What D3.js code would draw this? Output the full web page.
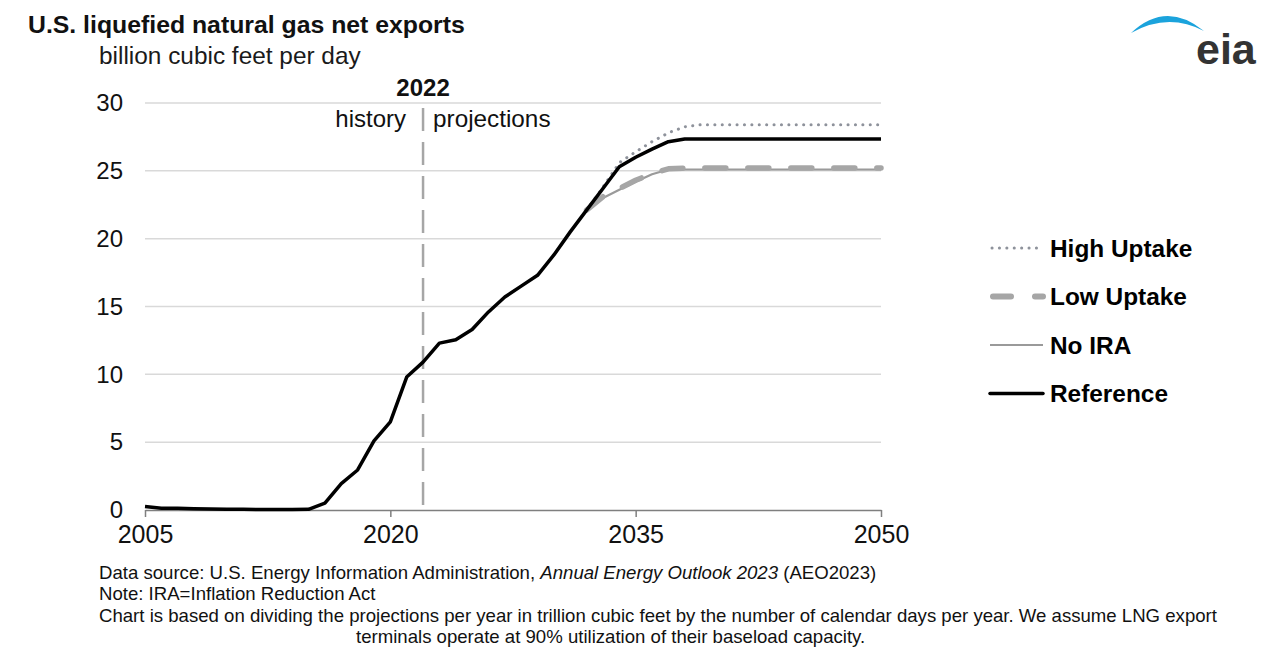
<!DOCTYPE html>
<html>
<head>
<meta charset="utf-8">
<script src="https://cdn.jsdelivr.net/npm/d3@7"></script>
<style>
  body { margin: 0; background: #fff; }
  svg { font-family: "Liberation Sans", Arial, sans-serif; }
</style>
</head>
<body>
<svg id="chart" width="1262" height="647"></svg>
<script>
// years on the x axis
var years = [2005, 2006, 2007, 2008, 2009, 2010, 2011, 2012, 2013, 2014, 2015, 2016, 2017, 2018, 2019, 2020,
  2021, 2022, 2023, 2024, 2025, 2026, 2027, 2028, 2029, 2030, 2031, 2032, 2033, 2034, 2035, 2036, 2037, 2038,
  2039, 2040, 2041, 2042, 2043, 2044, 2045, 2046, 2047, 2048, 2049, 2050];

// billion cubic feet per day
var reference = [0.25, 0.13, 0.12, 0.1, 0.08, 0.06, 0.05, 0.04, 0.03, 0.04, 0.05, 0.5, 1.95, 2.95, 5.1, 6.5,
  9.8, 10.9, 12.3, 12.55, 13.3, 14.6, 15.7, 16.5, 17.3, 18.8, 20.5, 22.1, 23.7, 25.3, 26.0, 26.6, 27.15, 27.35,
  27.35, 27.35, 27.35, 27.35, 27.35, 27.35, 27.35, 27.35, 27.35, 27.35, 27.35, 27.35];
var highUptake = [0.25, 0.13, 0.12, 0.1, 0.08, 0.06, 0.05, 0.04, 0.03, 0.04, 0.05, 0.5, 1.95, 2.95, 5.1, 6.5,
  9.8, 10.9, 12.3, 12.55, 13.3, 14.6, 15.7, 16.5, 17.3, 18.8, 20.5, 22.1, 23.8, 25.6, 26.4, 27.15, 27.8, 28.25,
  28.4, 28.4, 28.4, 28.4, 28.4, 28.4, 28.4, 28.4, 28.4, 28.4, 28.4, 28.4];
var lowUptake = [0.25, 0.13, 0.12, 0.1, 0.08, 0.06, 0.05, 0.04, 0.03, 0.04, 0.05, 0.5, 1.95, 2.95, 5.1, 6.5,
  9.8, 10.9, 12.3, 12.55, 13.3, 14.6, 15.7, 16.5, 17.3, 18.8, 20.5, 22.1, 23.1, 23.7, 24.3, 24.8, 25.15, 25.2,
  25.2, 25.2, 25.2, 25.2, 25.2, 25.2, 25.2, 25.2, 25.2, 25.2, 25.2, 25.2];
var noIRA = [0.25, 0.13, 0.12, 0.1, 0.08, 0.06, 0.05, 0.04, 0.03, 0.04, 0.05, 0.5, 1.95, 2.95, 5.1, 6.5,
  9.8, 10.9, 12.3, 12.55, 13.3, 14.6, 15.7, 16.5, 17.3, 18.8, 20.5, 22.1, 23.0, 23.6, 24.2, 24.75, 25.1, 25.1,
  25.1, 25.1, 25.1, 25.1, 25.1, 25.1, 25.1, 25.1, 25.1, 25.1, 25.1, 25.1];

var xTicks = [2005, 2020, 2035, 2050];
var yTicks = [0, 5, 10, 15, 20, 25, 30];
var splitYear = 2022;

var legendNames = ["High Uptake", "Low Uptake", "No IRA", "Reference"];

var footnotes = [
  "Data source: U.S. Energy Information Administration, ",
  "Note: IRA=Inflation Reduction Act",
  "Chart is based on dividing the projections per year in trillion cubic feet by the number of calendar days per year. We assume LNG export",
  "terminals operate at 90% utilization of their baseload capacity."
];

var svg = d3.select("#chart");

var x = d3.scaleLinear().domain([2005, 2050]).range([145, 881]);
var y = d3.scaleLinear().domain([0, 30]).range([510, 103]);

// styles for each series
var styles = {
  "High Uptake": { color: "#8e929b", width: 3, dash: "0.1,7.3", cap: "round" },
  "Low Uptake": { color: "#a6a6a6", width: 5.5, dash: "21,22", cap: "round" },
  "No IRA": { color: "#9a9a9a", width: 2.2, dash: null, cap: "butt" },
  "Reference": { color: "#000", width: 3.5, dash: null, cap: "round" }
};

// title + subtitle
svg.append("text").attr("x", 28).attr("y", 33)
  .style("font-size", "24.8px").style("font-weight", "bold").attr("fill", "#111")
  .text("U.S. liquefied natural gas net exports");
svg.append("text").attr("x", 99).attr("y", 64)
  .style("font-size", "24.4px").attr("fill", "#1a1a1a")
  .text("billion cubic feet per day");

// eia logo
svg.append("path")
  .attr("d", "M1131,33 Q1166,0 1204,31 Q1168,12 1131,33 Z")
  .attr("fill", "#1ba3dc");
svg.append("text").attr("x", 1196).attr("y", 64)
  .style("font-size", "43px").style("font-weight", "bold").attr("fill", "#333")
  .text("eia");

// grid lines
svg.append("g").selectAll("line")
  .data(yTicks.filter(function (d) { return d > 0; }))
  .enter().append("line")
  .attr("x1", x(2005)).attr("x2", x(2050))
  .attr("y1", function (d) { return y(d); })
  .attr("y2", function (d) { return y(d); })
  .attr("stroke", "#d9d9d9").attr("stroke-width", 1.5);

// y axis labels
var yAxis = svg.append("g")
  .attr("transform", "translate(" + x(2005) + ",0)")
  .call(d3.axisLeft(y).tickValues(yTicks).tickSize(0).tickPadding(22));
yAxis.select(".domain").remove();
yAxis.selectAll("text").style("font-size", "24px").attr("fill", "#111")
  .style("font-family", "Liberation Sans, Arial, sans-serif");

// x axis
var xAxis = svg.append("g")
  .attr("transform", "translate(0," + y(0) + ")")
  .call(d3.axisBottom(x).tickValues(xTicks).tickFormat(d3.format("d")).tickSize(7).tickPadding(8).tickSizeOuter(0));
xAxis.select(".domain").attr("stroke", "#7f7f7f").attr("stroke-width", 1.5);
xAxis.selectAll(".tick line").attr("stroke", "#7f7f7f").attr("stroke-width", 1.5);
xAxis.selectAll("text").style("font-size", "25px").attr("fill", "#111")
  .style("font-family", "Liberation Sans, Arial, sans-serif");

// history / projections divider
svg.append("line")
  .attr("x1", x(splitYear)).attr("x2", x(splitYear))
  .attr("y1", 108).attr("y2", y(0))
  .attr("stroke", "#a6a6a6").attr("stroke-width", 2.5)
  .attr("stroke-dasharray", "23,11");
svg.append("text").attr("x", x(splitYear)).attr("y", 96).attr("text-anchor", "middle")
  .style("font-size", "24px").style("font-weight", "bold").attr("fill", "#111").text("2022");
svg.append("text").attr("x", x(splitYear) - 17).attr("y", 127).attr("text-anchor", "end")
  .style("font-size", "24px").attr("fill", "#111").text("history");
svg.append("text").attr("x", x(splitYear) + 10).attr("y", 127)
  .style("font-size", "24.3px").attr("fill", "#111").text("projections");

// series lines
var seriesData = [
  { name: "No IRA", values: noIRA },
  { name: "Low Uptake", values: lowUptake },
  { name: "High Uptake", values: highUptake },
  { name: "Reference", values: reference }
];

var line = d3.line()
  .x(function (d, i) { return x(years[i]); })
  .y(function (d) { return y(d); });

seriesData.forEach(function (s) {
  var st = styles[s.name];
  var vals = s.values;
  // the scenarios only split from the reference after 2032
  if (s.name !== "Reference") {
    var start = years.indexOf(2032);
    vals = vals.slice(start);
    var l2 = d3.line()
      .x(function (d, i) { return x(years[start + i]); })
      .y(function (d) { return y(d); });
    svg.append("path").attr("d", l2(vals))
      .attr("fill", "none").attr("stroke", st.color).attr("stroke-width", st.width)
      .attr("stroke-dasharray", st.dash).attr("stroke-linecap", st.cap)
      .attr("stroke-linejoin", "round");
  } else {
    svg.append("path").attr("d", line(vals))
      .attr("fill", "none").attr("stroke", st.color).attr("stroke-width", st.width)
      .attr("stroke-linejoin", "round");
  }
});

// legend
var legend = svg.append("g").attr("transform", "translate(990,248)");
legendNames.forEach(function (name, i) {
  var st = styles[name];
  var g = legend.append("g").attr("transform", "translate(0," + (i * 48.5) + ")");
  if (name === "Low Uptake") {
    g.append("line").attr("x1", 3).attr("x2", 53).attr("y1", 0).attr("y2", 0)
      .attr("stroke", st.color).attr("stroke-width", 6).attr("stroke-linecap", "round")
      .attr("stroke-dasharray", "18,24");
  } else {
    g.append("line").attr("x1", name === "High Uptake" ? 2 : 0).attr("x2", 53).attr("y1", 0).attr("y2", 0)
      .attr("stroke", st.color).attr("stroke-width", name === "High Uptake" ? 3 : st.width)
      .attr("stroke-dasharray", st.dash).attr("stroke-linecap", st.cap);
  }
  g.append("text").attr("x", 60).attr("y", 0).attr("dy", "0.35em")
    .style("font-size", "24.4px").style("font-weight", "bold").attr("fill", "#000")
    .text(name);
});

// footnotes
var fn = svg.append("g").style("font-size", "18.6px").attr("fill", "#111");
var first = fn.append("text").attr("x", 99).attr("y", 579);
first.append("tspan").text(footnotes[0]);
first.append("tspan").style("font-style", "italic").text("Annual Energy Outlook 2023");
first.append("tspan").text(" (AEO2023)");
fn.append("text").attr("x", 99).attr("y", 600).text(footnotes[1]);
fn.append("text").attr("x", 99).attr("y", 622).text(footnotes[2]);
fn.append("text").attr("x", 356).attr("y", 643).text(footnotes[3]);
</script>
</body>
</html>
